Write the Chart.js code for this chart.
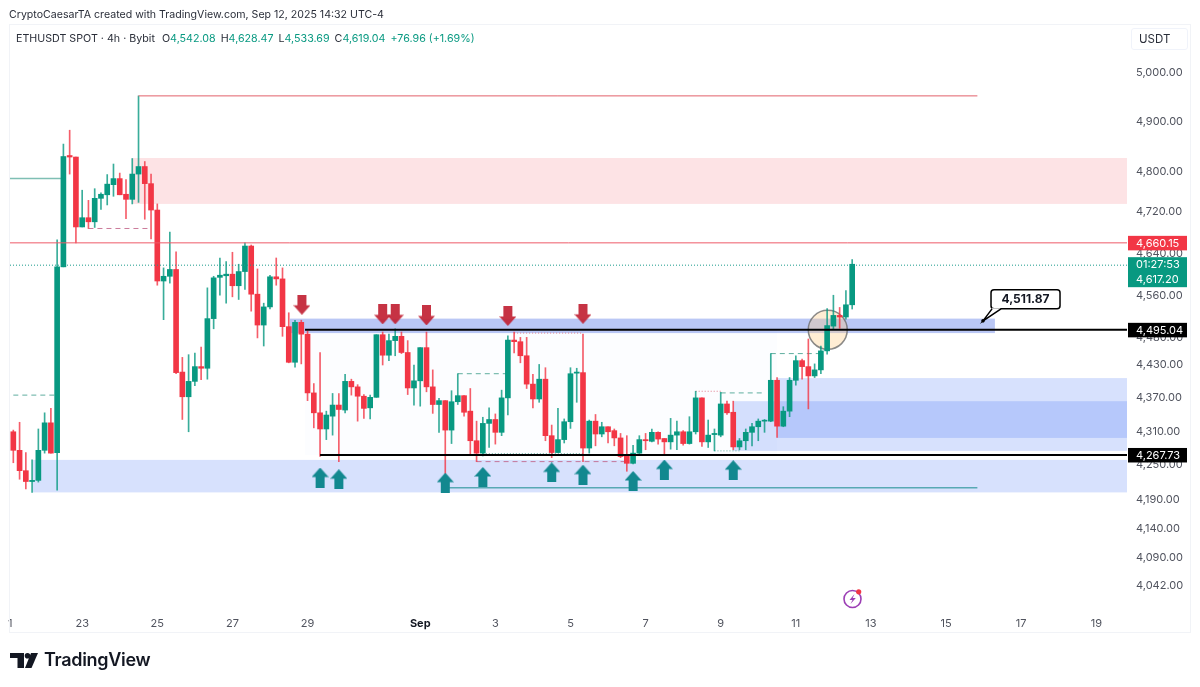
<!DOCTYPE html>
<html lang="en">
<head>
  <meta charset="UTF-8" />
  <title>ETHUSDT SPOT 4h</title>
  <style>
    body { margin:0; background:#fff; font-family:Inter, "Noto Sans", sans-serif; color:#131722; overflow:hidden; }
    #wrap { position:relative; width:1200px; height:687px; }
    canvas { position:absolute; left:0; top:0; }
    #frame { position:absolute; left:9px; top:24px; width:1182px; height:609px; border:1px solid #f1f3f7; box-sizing:border-box; }
    #credit { position:absolute; left:9px; top:8px; font-size:10.6px; color:#2a2e39; white-space:nowrap; }
    #legend { position:absolute; left:16px; top:32px; font-size:10.7px; color:#2a2e39; white-space:nowrap; }
    #legend b { font-weight:400; color:#089981; margin-right:5px; }
    #legend span { margin-right:7px; }
    #unit { position:absolute; left:1131px; top:28px; width:57px; height:22px; border:1px solid #f0f3fa; border-radius:3px;
            box-sizing:border-box; font-size:11.5px; line-height:20px; padding-left:7px; color:#2a2e39; }
    #brand { position:absolute; left:44px; top:649px; font-size:18px; font-weight:600; letter-spacing:-.3px; color:#131722; }
    svg { position:absolute; }
  </style>
</head>
<body>
<div id="wrap">
  <canvas id="chart" width="1200" height="687"></canvas>
  <div id="frame"></div>
  <div id="credit">CryptoCaesarTA created with TradingView.com, Sep 12, 2025 14:32 UTC-4</div>
  <div id="legend"><span>ETHUSDT SPOT · 4h · Bybit</span>O<b>4,542.08</b>H<b>4,628.47</b>L<b>4,533.69</b>C<b>4,619.04</b><b>+76.96 (+1.69%)</b></div>
  <div id="unit">USDT</div>
  <svg style="left:10px;top:653px" width="28" height="15" viewBox="0 0 28 15">
    <path d="M0 0H14V15H7.5V5H0Z" fill="#131722"/><circle cx="17.5" cy="2.8" r="2.8" fill="#131722"/>
    <path d="M21 0H28L21.5 15H15Z" fill="#131722"/>
  </svg>
  <div id="brand">TradingView</div>
  <svg style="left:841px;top:587px" width="24" height="24" viewBox="0 0 24 24">
    <circle cx="11.5" cy="12" r="8.5" fill="none" stroke="#9c3fb5" stroke-width="1.6"/>
    <path d="M13.5 7L8.5 13H11.5L9.5 17L14.8 11H11.7Z" fill="#9c3fb5"/>
    <circle cx="17.7" cy="4.8" r="2.6" fill="#f23645"/>
  </svg>
</div>

<script src="https://cdn.jsdelivr.net/npm/chart.js@4"></script>
<script>
// candles (x is the candle number)
const opens  = [4309,4276,4240,4221,4223,4276,4325,4272,4614,4832,4829,4691,4709,4701,4747,4754,4774,4786,4755,4745,
                4795,4810,4776,4724,4587,4596,4609,4417,4372,4400,4427,4424,4516,4594,4597,4600,4578,4605,4654,4562,
                4504,4538,4595,4591,4501,4435,4509,4487,4379,4343,4314,4337,4357,4348,4400,4390,4373,4352,4371,4486,
                4448,4475,4483,4453,4388,4401,4462,4390,4358,4365,4312,4363,4374,4346,4293,4271,4324,4331,4308,4370,
                4476,4473,4447,4395,4368,4404,4302,4272,4295,4327,4415,4416,4280,4328,4305,4318,4311,4298,4266,4253,
                4271,4295,4292,4308,4297,4291,4303,4309,4288,4309,4370,4291,4304,4303,4359,4344,4282,4293,4308,4318,
                4328,4328,4402,4319,4346,4402,4438,4427,4410,4421,4456,4502,4522,4519,4542];
const highs  = [4312,4326,4272,4259,4314,4343,4351,4666,4855,4883,4829,4763,4743,4766,4758,4794,4815,4797,4784,4826,
                4953,4820,4795,4736,4612,4681,4643,4444,4449,4452,4463,4574,4596,4631,4624,4642,4619,4660,4656,4610,
                4545,4598,4631,4612,4527,4513,4513,4493,4396,4453,4346,4378,4378,4413,4404,4394,4376,4375,4486,4491,
                4487,4497,4491,4475,4430,4462,4491,4421,4369,4365,4383,4414,4374,4387,4328,4335,4352,4341,4384,4484,
                4491,4481,4481,4413,4431,4425,4321,4351,4332,4425,4424,4487,4330,4340,4326,4318,4314,4306,4302,4285,
                4302,4306,4314,4309,4297,4333,4328,4311,4336,4382,4370,4330,4314,4380,4364,4364,4297,4314,4324,4332,
                4331,4451,4407,4354,4407,4447,4441,4478,4432,4465,4535,4560,4537,4569,4628];
const lows   = [4254,4225,4208,4202,4220,4271,4271,4206,4614,4795,4660,4691,4688,4690,4725,4734,4751,4754,4707,4736,
                4739,4706,4668,4579,4514,4583,4414,4331,4309,4392,4403,4404,4497,4560,4545,4557,4552,4571,4530,4480,
                4465,4534,4579,4483,4434,4426,4432,4365,4316,4265,4295,4303,4256,4343,4375,4328,4333,4332,4371,4430,
                4438,4447,4451,4376,4357,4355,4381,4342,4308,4235,4288,4358,4337,4269,4256,4266,4281,4287,4302,4339,
                4452,4434,4387,4352,4362,4293,4263,4272,4289,4315,4362,4256,4271,4284,4300,4289,4284,4263,4239,4252,
                4269,4277,4291,4287,4269,4278,4277,4285,4287,4305,4283,4281,4275,4300,4340,4277,4277,4277,4284,4293,
                4308,4327,4299,4318,4336,4393,4404,4350,4407,4414,4450,4497,4498,4515,4534];
const closes = [4276,4240,4221,4223,4276,4325,4271,4614,4830,4829,4691,4709,4701,4747,4755,4775,4786,4754,4745,4795,
                4810,4776,4724,4587,4596,4609,4416,4372,4400,4427,4424,4516,4593,4598,4600,4578,4605,4654,4562,4504,
                4538,4595,4591,4501,4435,4509,4487,4379,4343,4314,4339,4357,4349,4400,4390,4373,4351,4371,4486,4448,
                4475,4483,4453,4388,4401,4462,4390,4358,4365,4312,4363,4374,4344,4293,4271,4324,4331,4308,4370,4476,
                4473,4447,4395,4368,4404,4302,4272,4295,4327,4414,4417,4280,4328,4305,4318,4309,4298,4265,4253,4271,
                4295,4293,4308,4296,4291,4303,4309,4288,4309,4370,4291,4303,4306,4359,4343,4282,4293,4308,4318,4328,
                4329,4402,4319,4346,4402,4438,4427,4410,4421,4456,4503,4522,4519,4542,4619];

// axes
const priceTicks = [5000,4900,4800,4720,4640,4560,4480,4430,4370,4310,4250,4190,4140,4090,4042];
const dateTicks  = [-0.5,11,23,35,47,65,77,89,101,113,125,137,149,161,173];
const dateLabels = ['1','23','25','27','29','Sep','3','5','7','9','11','13','15','17','19'];
const xMin = -0.53, xMax = 177.9, yMin = 4002, yMax = 5105;

// drawn levels
const resistPrice = 4660.15, lastPrice = 4617.20, rangeHigh = 4495.04, rangeLow = 4267.73;
const topLevel = 4953, preLevel = 4786, bottomLevel = 4210, noteX = 154.9, notePrice = 4511.87;

// zones: [start candle, end candle, top price, bottom price]
const redZone    = [19, xMax, 4827, 4736];
const upperZone  = [44.2, 156.8, 4516, 4489];
const rangeBox   = [46.6, 122, rangeHigh, rangeLow];
const demandA    = [122, xMax, 4406, 4298];
const demandB    = [115, xMax, 4364, 4275];
const lowerZone  = [3.1, xMax, 4259, 4202];

// short dashed levels: [start, end, price]
const greenDashes = [[0,7,4375],[71,79,4414],[113,120,4379],[121,129,4451]];
const redDashes   = [[12,22,4688],[74,98,4256]];
const redDots     = [[80,91,4489],[109,113,4382]];
const greenDots   = [[75,91,4270],[112,116,4275]];

// arrows
const downArrowX = [46.1,59,61,66,79,91];
const downArrowY = [4542,4524,4524,4522,4521,4525];
const upArrowX   = [49,52,69,75,86,91,99,104,115];
const upArrowY   = [4228,4225,4219,4229,4237,4233,4222,4242,4241];

const GREEN = '#089981', RED = '#f23645';
const money = v => v.toLocaleString('en-US', { minimumFractionDigits: 2, maximumFractionDigits: 2 });
const candleColors = closes.map((c, i) => c >= opens[i] ? GREEN : RED);
const wickColors = closes.map((c, i) => c >= opens[i] ? 'rgba(8,153,129,.8)' : 'rgba(242,54,69,.8)');

function arrowSprite(color, up) {
  const c = document.createElement('canvas');
  c.width = 17; c.height = 20;
  const g = c.getContext('2d');
  g.fillStyle = color;
  if (!up) { g.translate(0, 20); g.scale(1, -1); }
  g.beginPath();
  g.moveTo(8.5, 0); g.lineTo(17, 9.5); g.lineTo(13, 9.5); g.lineTo(13, 20);
  g.lineTo(4, 20); g.lineTo(4, 9.5); g.lineTo(0, 9.5);
  g.closePath(); g.fill();
  return c;
}

function level(x0, x1, price, color, width, dash, order) {
  return { type:'line', data:[{x:x0,y:price},{x:x1,y:price}], borderColor:color, borderWidth:width,
           borderDash:dash || [], pointRadius:0, order:order };
}

const datasets = [
  { type:'scatter', data:downArrowX.map((x,i)=>({x,y:downArrowY[i]})), pointStyle:arrowSprite('rgba(194,38,56,.94)',false), order:0 },
  { type:'scatter', data:upArrowX.map((x,i)=>({x,y:upArrowY[i]})), pointStyle:arrowSprite('#12888f',true), order:0 },
  level(46.6, xMax, rangeHigh, '#000', 2, null, 1),
  level(49, xMax, rangeLow, '#000', 2, null, 1),
  level(xMin, xMax, resistPrice, '#ee5a68', 1, null, 1),
  level(xMin, xMax, lastPrice, '#1a9a8c', 1, [1,2], 1),
  level(20, 154, topLevel, '#e2606a', 1, null, 1),
  level(xMin, 8, preLevel, '#7fbfb4', 1.5, null, 4),
  level(69, 154, bottomLevel, '#58a9b4', 1.5, null, 4),
  ...greenDashes.map(d => level(d[0], d[1], d[2], '#5fae9f', 1, [5,4], 4)),
  ...redDashes.map(d => level(d[0], d[1], d[2], 'rgba(190,90,130,.8)', 1, [5,4], 4)),
  ...redDots.map(d => level(d[0], d[1], d[2], '#e07a88', 1, [1,2], 4)),
  ...greenDots.map(d => level(d[0], d[1], d[2], '#5fae9f', 1, [1,2], 4)),
  { type:'bar', data:opens.map((o,i)=>({x:i,y:[o,closes[i]]})), backgroundColor:candleColors,
    barThickness:5, minBarLength:1, grouped:false, order:2 },
  { type:'bar', data:highs.map((h,i)=>({x:i,y:[lows[i],h]})), backgroundColor:wickColors,
    barThickness:1, grouped:false, order:3 },
  { type:'scatter', data:[{x:130.1,y:rangeHigh}], pointRadius:19.5, pointBackgroundColor:'rgba(255,200,120,.32)',
    pointBorderColor:'rgba(110,110,110,.8)', pointBorderWidth:1.5, order:5 }
];

// zones go under the candles, price tags and the note on top
const overlays = {
  id:'overlays',
  beforeDatasetsDraw(chart) {
    const { ctx, scales:{x,y} } = chart;
    const zone = (z, color) => {
      ctx.fillStyle = color;
      ctx.fillRect(x.getPixelForValue(z[0]), y.getPixelForValue(z[2]),
                   x.getPixelForValue(z[1]) - x.getPixelForValue(z[0]), y.getPixelForValue(z[3]) - y.getPixelForValue(z[2]));
    };
    zone(redZone, 'rgba(242,54,69,.14)');
    zone(rangeBox, 'rgba(41,98,255,.015)');
    zone(demandA, 'rgba(41,98,245,.19)');
    zone(demandB, 'rgba(41,98,245,.19)');
    zone(lowerZone, 'rgba(41,98,245,.19)');
    zone(upperZone, 'rgba(41,82,225,.32)');
  },
  afterDraw(chart) {
    const { ctx, scales:{x,y} } = chart;
    ctx.save();
    ctx.textBaseline = 'middle';
    ctx.textAlign = 'left';
    ctx.font = '11px Inter';
    const tag = (price, color) => {
      const py = y.getPixelForValue(price);
      ctx.fillStyle = color;
      ctx.fillRect(1128, py - 7, 59, 14.5);
      ctx.fillStyle = '#fff';
      ctx.fillText(money(price), 1136, py + 0.5);
    };
    tag(resistPrice, RED);
    tag(rangeHigh, '#000');
    tag(rangeLow, '#000');

    const py = y.getPixelForValue(lastPrice);
    ctx.fillStyle = GREEN;
    ctx.fillRect(1128, py - 8, 59, 30);
    ctx.fillStyle = '#fff';
    ctx.fillText('01:27:53', 1136, py - 0.5);
    ctx.fillText(money(lastPrice), 1136, py + 14.5);

    // note with its pointer
    const ax = x.getPixelForValue(noteX), ay = y.getPixelForValue(notePrice);
    ctx.strokeStyle = '#000'; ctx.lineWidth = 1.5; ctx.fillStyle = '#fff';
    ctx.beginPath();
    ctx.roundRect(ax + 8, ay - 31, 69, 19, 3);
    ctx.fill(); ctx.stroke();
    ctx.beginPath();
    ctx.moveTo(ax, ay); ctx.lineTo(ax + 9, ay - 12.5); ctx.lineTo(ax + 18, ay - 12.5);
    ctx.closePath(); ctx.fillStyle = '#fff'; ctx.fill();
    ctx.beginPath();
    ctx.moveTo(ax + 9, ay - 12); ctx.lineTo(ax, ay); ctx.lineTo(ax + 18, ay - 12);
    ctx.stroke();
    ctx.beginPath(); ctx.arc(ax, ay, 1.8, 0, Math.PI * 2); ctx.fillStyle = '#000'; ctx.fill();
    ctx.fillStyle = '#131722';
    ctx.font = 'bold 12px Inter';
    ctx.textAlign = 'center';
    ctx.fillText(money(notePrice), ax + 42.5, ay - 21);
    ctx.restore();
  }
};

new Chart(document.getElementById('chart'), {
  data: { datasets },
  plugins: [overlays],
  options: {
    responsive:false, animation:false, events:[],
    layout:{ autoPadding:false, padding:{ left:10, top:23, right:0, bottom:0 } },
    plugins:{ legend:{display:false}, tooltip:{enabled:false} },
    scales:{
      x:{
        type:'linear', min:xMin, max:xMax, bounds:'data', offset:false,
        grid:{display:false, drawTicks:false}, border:{display:false},
        afterBuildTicks: s => { s.ticks = dateTicks.map(v => ({value:v})); },
        afterFit: s => { s.height = 77; s.paddingLeft = 0; s.paddingRight = 0; },
        ticks:{
          autoSkip:false, maxRotation:0, padding:7, color: c => c.tick && c.tick.value === 65 ? '#131722' : '#50535e',
          font: c => ({ family:'Inter', size:11, weight: c.tick && c.tick.value === 65 ? 'bold' : 'normal' }),
          callback: v => dateLabels[dateTicks.indexOf(v)]
        }
      },
      y:{
        type:'logarithmic', position:'right', min:yMin, max:yMax, bounds:'data',
        grid:{display:false, drawTicks:false}, border:{display:false},
        afterBuildTicks: s => { s.ticks = priceTicks.map(v => ({value:v})); },
        afterFit: s => { s.width = 73; s.paddingTop = 0; s.paddingBottom = 0; },
        ticks:{
          autoSkip:false, padding:9, color:'#50535e', font:{family:'Inter', size:11},
          callback: v => money(v)
        }
      }
    }
  }
});
</script>
</body>
</html>
